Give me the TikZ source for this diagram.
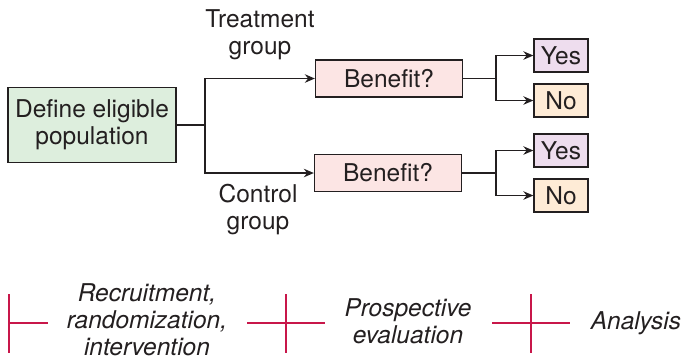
\documentclass[tikz,border=0pt]{standalone}
\usepackage{fontspec}
\setmainfont{TeX Gyre Heros}
\usepackage{xcolor}
\usetikzlibrary{arrows.meta,positioning}

\definecolor{popgreen}{HTML}{DDEEDD}
\definecolor{benpink}{HTML}{FCE5E4}
\definecolor{yespurple}{HTML}{EEDDEE}
\definecolor{nopeach}{HTML}{FEEBD6}
\definecolor{phasered}{HTML}{C8174A}
\definecolor{inkgray}{HTML}{231F20}

\begin{document}
\begin{tikzpicture}[
    x=1pt, y=-1pt,
    every node/.style={font=\fontsize{24.5}{27}\selectfont, text=inkgray},
    box/.style={draw=inkgray, line width=1.3pt, align=center, inner sep=0pt},
    answer/.style={box, minimum width=54pt, minimum height=33pt},
    arr/.style={-{Stealth[length=10pt,width=8.5pt]}, line width=1.3pt, draw=inkgray},
    link/.style={line width=1.3pt, draw=inkgray},
    phase/.style={line width=1.4pt, draw=phasered},
    note/.style={align=center, font=\fontsize{24.5}{27}\selectfont\itshape}
  ]
    \useasboundingbox (0,0) rectangle (681,360);

    % study design
    \node[box, fill=popgreen, minimum width=168pt, minimum height=75pt] (pop) at (92,125) {Define eligible\\population};
    \node[box, fill=benpink, minimum width=147pt, minimum height=37pt] (ben1) at (389,78.5) {Benefit?};
    \node[box, fill=benpink, minimum width=147pt, minimum height=37pt] (ben2) at (388,173) {Benefit?};
    \node[answer, fill=yespurple] (yes1) at (561,55.5) {Yes};
    \node[answer, fill=nopeach] (no1) at (561,100.5) {No};
    \node[answer, fill=yespurple] (yes2) at (561,150.5) {Yes};
    \node[answer, fill=nopeach] (no2) at (561,195.5) {No};
    \node[align=center] (treat) at (260,35) {Treatment\\group};
    \node[align=center] (ctrl) at (258,210) {Control\\group};

    \coordinate (split) at (205,125);
    \coordinate (fork1) at (496,78.5);
    \coordinate (fork2) at (496,173);

    \draw[link] (pop.east) -- (split);
    \foreach \b in {ben1, ben2}
      \draw[arr] (split) |- (\b.west);
    \draw[link] (ben1.east) -- (fork1);
    \draw[link] (ben2.east) -- (fork2);
    \foreach \a/\b in {fork1/yes1, fork1/no1, fork2/yes2, fork2/no2}
      \draw[arr] (\a) |- (\b.west);

    % time line
    \draw[phase] (9,294) -- (9,353);
    \draw[phase] (9,323) -- (48,323);
    \foreach \x in {286, 531} {
      \draw[phase] (\x-39,323) -- (\x+39,323);
      \draw[phase] (\x,294) -- (\x,353);
    }
    \node[note] (recruit) at (147,320) {Recruitment,\\randomization,\\intervention};
    \node[note] (prosp) at (408,321) {Prospective\\evaluation};
    \node[note] (analysis) at (636,323) {Analysis};
  \end{tikzpicture}
\end{document}
